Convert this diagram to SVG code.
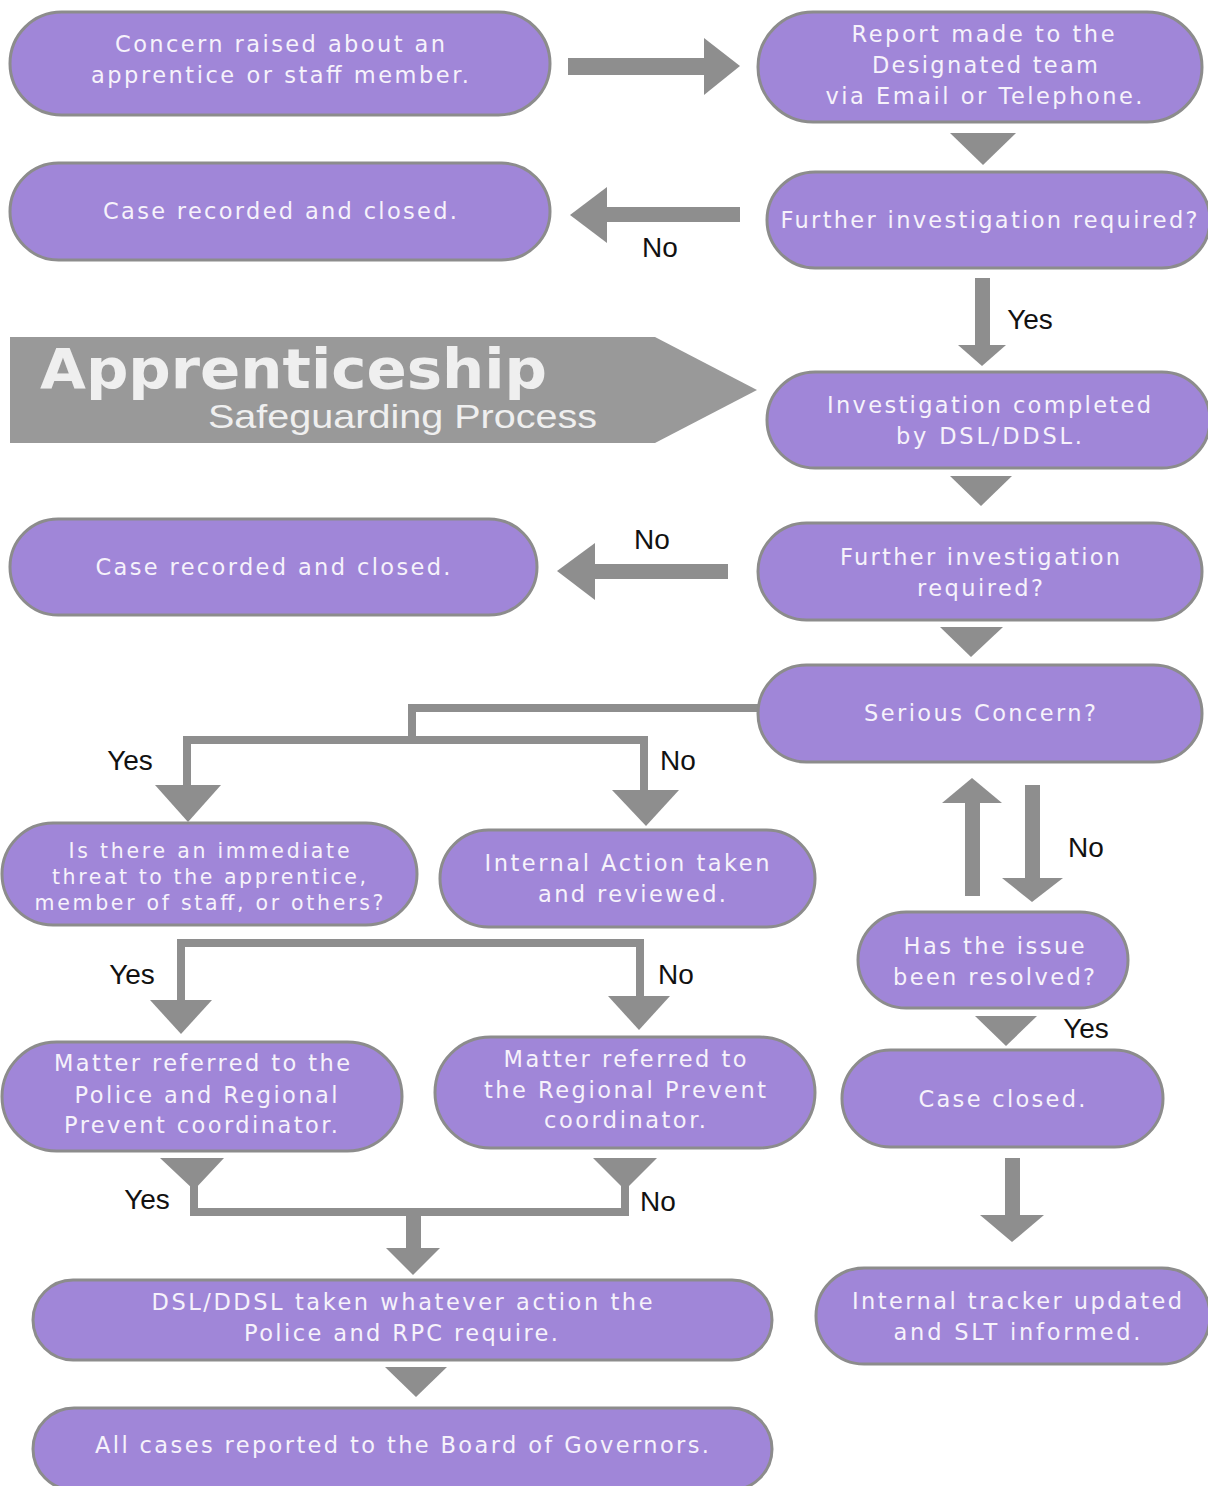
<svg xmlns="http://www.w3.org/2000/svg" width="1208" height="1486" viewBox="0 0 1208 1486">
  <style>
    .box { fill: #a086d8; stroke: #8c8c8c; stroke-width: 3; }
    .t { font-family: "DejaVu Sans", Verdana, sans-serif; font-size: 22.5px; fill: #f6f2fb; text-anchor: middle; }
    .ts { font-size: 20.5px; }
    .lbl { font-family: "Liberation Sans", Arial, sans-serif; font-size: 28px; fill: #111; text-anchor: middle; }
    .arr { fill: #8e8e8e; stroke: none; }
    .line { fill: none; stroke: #8e8e8e; stroke-width: 8; stroke-linejoin: miter; }
  </style>
  <rect width="1208" height="1486" fill="#ffffff"/>

  <!-- title banner -->
  <g id="banner">
    <polygon points="10,337 655,337 757,390 655,443 10,443" fill="#999999"/>
    <text x="40" y="388" font-family="'DejaVu Sans', Verdana, sans-serif" font-weight="bold" font-size="56" fill="#efefef" textLength="507" lengthAdjust="spacingAndGlyphs">Apprenticeship</text>
    <text x="208" y="428" font-family="'Liberation Sans', Arial, sans-serif" font-size="34" fill="#efefef" textLength="389" lengthAdjust="spacingAndGlyphs">Safeguarding Process</text>
  </g>

  <!-- connectors -->
  <g id="connectors">
    <!-- concern -> report -->
    <rect class="arr" x="568" y="58" width="138" height="17"/>
    <polygon class="arr" points="704,38 740,66 704,95"/>
    <!-- report -> further investigation -->
    <polygon class="arr" points="950,133 1016,133 983,165"/>
    <!-- further investigation -> case closed (No) -->
    <rect class="arr" x="605" y="207" width="135" height="15"/>
    <polygon class="arr" points="607,187 570,215 607,243"/>
    <!-- further investigation -> investigation completed (Yes) -->
    <rect class="arr" x="975" y="278" width="15" height="69"/>
    <polygon class="arr" points="958,345 1006,345 982,366"/>
    <!-- investigation completed -> further investigation -->
    <polygon class="arr" points="950,476 1012,476 981,506"/>
    <!-- further investigation -> case closed (No) -->
    <rect class="arr" x="593" y="564" width="135" height="15"/>
    <polygon class="arr" points="595,543 557,571 595,600"/>
    <!-- further investigation -> serious concern -->
    <polygon class="arr" points="940,627 1003,627 971,657"/>
    <!-- serious concern split -->
    <path class="line" d="M760 708 H412 V740"/>
    <path class="line" d="M187 787 V740 H644 V791"/>
    <polygon class="arr" points="155,785 221,785 188,822"/>
    <polygon class="arr" points="612,790 679,790 646,826"/>
    <!-- serious concern <-> resolved -->
    <rect class="arr" x="965" y="801" width="15" height="95"/>
    <polygon class="arr" points="942,803 972,778 1002,803"/>
    <rect class="arr" x="1025" y="785" width="15" height="95"/>
    <polygon class="arr" points="1002,878 1063,878 1032,902"/>
    <!-- resolved -> case closed (Yes) -->
    <polygon class="arr" points="975,1016 1037,1016 1006,1046"/>
    <!-- case closed -> tracker -->
    <rect class="arr" x="1005" y="1158" width="15" height="60"/>
    <polygon class="arr" points="980,1215 1044,1215 1012,1242"/>
    <!-- threat split -->
    <path class="line" d="M181 1001 V943 H640 V997"/>
    <polygon class="arr" points="150,1000 212,1000 181,1034"/>
    <polygon class="arr" points="608,996 670,996 639,1030"/>
    <!-- referrals merge -->
    <polygon class="arr" points="160,1158 224,1158 194,1190"/>
    <polygon class="arr" points="593,1158 657,1158 625,1190"/>
    <path class="line" d="M194 1185 V1212 H625 V1185"/>
    <rect class="arr" x="406" y="1212" width="15" height="38"/>
    <polygon class="arr" points="386,1248 440,1248 413,1275"/>
    <!-- action -> board -->
    <polygon class="arr" points="385,1367 447,1367 416,1397"/>
  </g>

  <!-- branch labels -->
  <g id="labels">
    <text class="lbl" x="660" y="257">No</text>
    <text class="lbl" x="1030" y="329">Yes</text>
    <text class="lbl" x="652" y="549">No</text>
    <text class="lbl" x="130" y="770">Yes</text>
    <text class="lbl" x="678" y="770">No</text>
    <text class="lbl" x="1086" y="857">No</text>
    <text class="lbl" x="132" y="984">Yes</text>
    <text class="lbl" x="676" y="984">No</text>
    <text class="lbl" x="1086" y="1038">Yes</text>
    <text class="lbl" x="147" y="1209">Yes</text>
    <text class="lbl" x="658" y="1211">No</text>
  </g>

  <!-- nodes -->
  <g id="n-concern">
    <rect class="box" x="10" y="12" width="540" height="103" rx="51.5"/>
    <text class="t" x="280" y="52" textLength="330" lengthAdjust="spacing">Concern raised about an</text>
    <text class="t" x="280" y="83" textLength="378" lengthAdjust="spacing">apprentice or staff member.</text>
  </g>
  <g id="n-report">
    <rect class="box" x="758" y="12" width="444" height="110" rx="55"/>
    <text class="t" x="983" y="42" textLength="263" lengthAdjust="spacing">Report made to the</text>
    <text class="t" x="985" y="73" textLength="226" lengthAdjust="spacing">Designated team</text>
    <text class="t" x="984" y="104" textLength="317" lengthAdjust="spacing">via Email or Telephone.</text>
  </g>
  <g id="n-further1">
    <rect class="box" x="767" y="172" width="443" height="96" rx="48"/>
    <text class="t" x="989" y="228" textLength="417" lengthAdjust="spacing">Further investigation required?</text>
  </g>
  <g id="n-closed1">
    <rect class="box" x="10" y="163" width="540" height="97" rx="48.5"/>
    <text class="t" x="280" y="219" textLength="354" lengthAdjust="spacing">Case recorded and closed.</text>
  </g>
  <g id="n-completed">
    <rect class="box" x="767" y="372" width="443" height="96" rx="48"/>
    <text class="t" x="989" y="413" textLength="324" lengthAdjust="spacing">Investigation completed</text>
    <text class="t" x="989" y="444" textLength="186" lengthAdjust="spacing">by DSL/DDSL.</text>
  </g>
  <g id="n-further2">
    <rect class="box" x="758" y="523" width="444" height="97" rx="48.5"/>
    <text class="t" x="980" y="565" textLength="280" lengthAdjust="spacing">Further investigation</text>
    <text class="t" x="980" y="596" textLength="126" lengthAdjust="spacing">required?</text>
  </g>
  <g id="n-closed2">
    <rect class="box" x="10" y="519" width="527" height="96" rx="48"/>
    <text class="t" x="273" y="575" textLength="355" lengthAdjust="spacing">Case recorded and closed.</text>
  </g>
  <g id="n-serious">
    <rect class="box" x="758" y="665" width="444" height="97" rx="48.5"/>
    <text class="t" x="980" y="721" textLength="232" lengthAdjust="spacing">Serious Concern?</text>
  </g>
  <g id="n-threat">
    <rect class="box" x="2" y="823" width="415" height="102" rx="51"/>
    <text class="t ts" x="209" y="858" textLength="281" lengthAdjust="spacing">Is there an immediate</text>
    <text class="t ts" x="209" y="884" textLength="314" lengthAdjust="spacing">threat to the apprentice,</text>
    <text class="t ts" x="209" y="910" textLength="349" lengthAdjust="spacing">member of staff, or others?</text>
  </g>
  <g id="n-internal">
    <rect class="box" x="440" y="830" width="375" height="97" rx="48.5"/>
    <text class="t" x="627" y="871" textLength="285" lengthAdjust="spacing">Internal Action taken</text>
    <text class="t" x="632" y="902" textLength="188" lengthAdjust="spacing">and reviewed.</text>
  </g>
  <g id="n-resolved">
    <rect class="box" x="858" y="912" width="270" height="96" rx="48"/>
    <text class="t" x="994" y="954" textLength="181" lengthAdjust="spacing">Has the issue</text>
    <text class="t" x="994" y="985" textLength="202" lengthAdjust="spacing">been resolved?</text>
  </g>
  <g id="n-case-closed">
    <rect class="box" x="842" y="1050" width="321" height="97" rx="48.5"/>
    <text class="t" x="1002" y="1107" textLength="167" lengthAdjust="spacing">Case closed.</text>
  </g>
  <g id="n-tracker">
    <rect class="box" x="816" y="1268" width="394" height="96" rx="48"/>
    <text class="t" x="1017" y="1309" textLength="330" lengthAdjust="spacing">Internal tracker updated</text>
    <text class="t" x="1017" y="1340" textLength="247" lengthAdjust="spacing">and SLT informed.</text>
  </g>
  <g id="n-police">
    <rect class="box" x="2" y="1042" width="400" height="109" rx="54.5"/>
    <text class="t" x="202" y="1071" textLength="296" lengthAdjust="spacing">Matter referred to the</text>
    <text class="t" x="206" y="1103" textLength="263" lengthAdjust="spacing">Police and Regional</text>
    <text class="t" x="201" y="1133" textLength="274" lengthAdjust="spacing">Prevent coordinator.</text>
  </g>
  <g id="n-prevent">
    <rect class="box" x="435" y="1037" width="380" height="111" rx="55.5"/>
    <text class="t" x="625" y="1067" textLength="243" lengthAdjust="spacing">Matter referred to</text>
    <text class="t" x="625" y="1098" textLength="282" lengthAdjust="spacing">the Regional Prevent</text>
    <text class="t" x="625" y="1128" textLength="162" lengthAdjust="spacing">coordinator.</text>
  </g>
  <g id="n-action">
    <rect class="box" x="33" y="1280" width="739" height="80" rx="40"/>
    <text class="t" x="402" y="1310" textLength="501" lengthAdjust="spacing">DSL/DDSL taken whatever action the</text>
    <text class="t" x="401" y="1341" textLength="314" lengthAdjust="spacing">Police and RPC require.</text>
  </g>
  <g id="n-board">
    <rect class="box" x="33" y="1408" width="739" height="82" rx="41"/>
    <text class="t" x="402" y="1453" textLength="614" lengthAdjust="spacing">All cases reported to the Board of Governors.</text>
  </g>
</svg>
